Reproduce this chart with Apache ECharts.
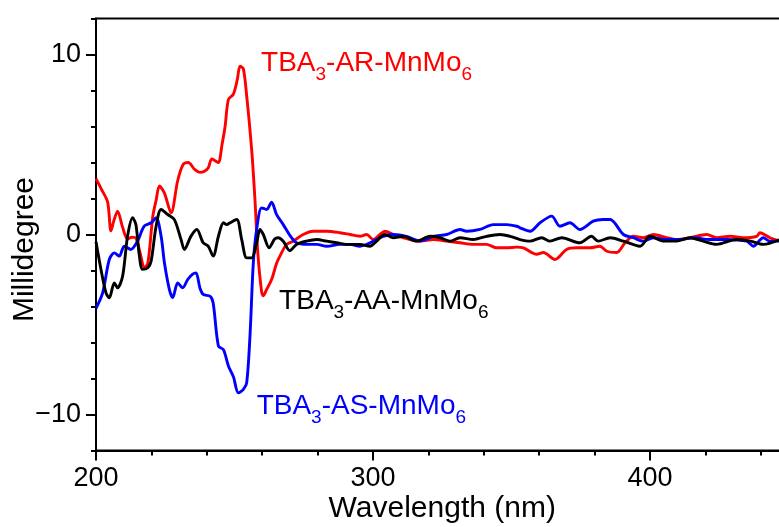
<!DOCTYPE html>
<html>
<head>
<meta charset="utf-8">
<script src="https://cdn.jsdelivr.net/npm/echarts@6/dist/echarts.min.js"></script>
<style>html,body{margin:0;padding:0;background:#fff;}#c{width:779px;height:527px;}</style>
</head>
<body>
<div id="c"></div>
<script>
// Wavelength (nm) / millidegree pairs
const redX = [200,202,204.2,205.4,206.5,207.8,209.6,211.4,213,214.4,216.2,217.4,218.7,220.5,221.7,222.9,224.7,227.1,229.5,231.5,233.3,235.7,237.5,239,240.5,241.8,243,244.2,245.5,246.6,247.8,249.6,251,252,253.2,254.4,256.2,257.4,258.4,259.8,260.4,261.6,263.4,265.2,266.4,268.8,271.2,274.8,278.4,283.3,288.1,291.7,295.3,297.7,300.1,302.5,304.3,307.3,310.9,317,321.8,326.6,331.4,336.2,341,344.7,348.3,351.9,354.3,359.1,361.5,365.7,369.9,373.5,378.3,381.9,384.4,388,391,394,397.6,401.2,406,409.6,414.4,420.5,424,428.9,433.7,438.5,439.7,443.3,447];
const redY = [3.1,2.5,1.8,0.2,0.8,1.3,0.4,-0.25,-0.15,-0.2,-1.2,-1.85,-1.6,1.0,1.9,2.7,2.3,1.2,3.0,3.9,4.0,3.6,3.45,3.5,3.7,4.2,4.1,4.0,5.0,6.0,7.5,7.8,8.6,9.35,9.2,7.7,4.7,1.9,-1.0,-3.2,-3.4,-3.05,-2.5,-1.6,-1.2,-0.55,-0.37,0,0.18,0.18,0.1,0,-0.1,0,-0.28,0,0.18,0,-0.18,-0.37,-0.28,-0.37,-0.46,-0.55,-0.55,-0.74,-0.74,-0.7,-0.74,-1.1,-1.0,-1.39,-0.83,-0.74,-0.74,-0.65,-0.93,-1.0,-0.46,-0.1,-0.18,0,-0.18,-0.28,-0.18,0,-0.18,-0.1,-0.18,-0.1,0.1,-0.18,-0.37];

const blueX = [200,202.4,204.8,206.6,208.4,210.2,212.6,215,217.4,219.9,221.7,223.5,224.7,226.5,227.7,229.5,231.3,233.1,234.9,236.1,237.5,238.7,241.2,242.3,244.2,246,247.8,249.6,251.4,253.2,254.4,255.6,256.8,258,259.8,261.6,263.4,265.2,267.6,270,272.4,276,279.7,283.3,288.1,291.7,295.3,297.7,300.1,303.7,307.3,312.1,317,321.8,326.6,331.4,333.8,338.6,343.4,348.3,351.9,353.1,356.7,360.3,364.5,367.5,371.1,374.7,379.5,383.1,385.6,390.4,394,397.6,401.2,406,410.8,415.6,421.6,427.7,434.9,437.3,440.9,443.3,447];
const blueY = [-4.1,-3.24,-1.39,-1.02,-1.2,-0.65,-0.83,-0.37,0.46,0.65,0.93,-0.09,-1.57,-3.06,-3.5,-2.69,-2.96,-2.5,-2.2,-2.13,-2.96,-3.33,-3.43,-3.8,-6.2,-6.4,-7.3,-7.9,-8.8,-8.6,-8.24,-5.6,-1.57,0.28,1.48,1.39,1.8,1.1,0.55,-0.05,-0.46,-0.55,-0.55,-0.65,-0.55,-0.55,-0.65,-0.55,-0.37,-0.1,0,-0.1,-0.37,-0.1,0,0.28,0.18,0.28,0.55,0.55,0.46,0.37,0.18,0.65,1.02,0.46,0.65,0.28,0.74,0.83,0.83,0,-0.18,-0.37,-0.18,-0.28,-0.28,-0.18,-0.28,-0.28,-0.37,-0.65,-0.18,-0.37,-0.37];

const blackX = [200,201.8,203.6,204.8,206.6,207.8,209.6,211.4,213.2,214.4,215.6,216.8,218.7,219.9,221.7,223.5,225.9,228.3,230.7,231.9,234.3,236.4,238.7,240.5,242.3,244.2,246,247.2,248.4,250.8,252.6,254.4,256.2,258,259.2,260.4,262.5,264.5,265.8,267.6,270,272.4,276,279.7,283.3,286.9,290.5,295.3,298.9,301.3,304.3,307.3,310.9,315.7,320.6,324.2,327.8,331.4,336.2,341,345.8,349.5,353.1,356.7,360.9,363.9,368.1,374.7,378.9,381.3,385.6,390.4,396.4,400,404.8,409.6,414.4,419.2,424,431.3,436.3,440.9,447];
const blackY = [-0.4,-1.94,-3.24,-3.52,-2.69,-2.96,-2.32,-0.09,0.93,0.56,-1.11,-1.94,-1.85,-1.48,0.46,1.39,1.11,0.83,-0.28,-0.83,-0.09,0.28,-0.46,-0.65,-1.2,-0.1,0.65,0.55,0.65,0.83,-0.28,-1.3,-1.3,-0.46,0.28,0,-0.74,-0.25,-0.18,-0.37,-0.9,-0.55,-0.37,-0.28,-0.37,-0.46,-0.55,-0.55,-0.65,-0.37,0,-0.18,-0.1,-0.37,-0.1,-0.18,-0.37,-0.18,-0.28,-0.1,0,-0.1,-0.28,-0.37,-0.18,-0.37,-0.18,-0.46,-0.1,-0.37,-0.18,-0.37,-0.65,-0.1,-0.37,-0.37,-0.18,-0.37,-0.55,-0.28,-0.37,-0.55,-0.28];

const xMajorTicks = [200, 300, 400];
const xMinorTicks = [220, 240, 260, 280, 320, 340, 360, 380, 420, 440];
const yMajorTicks = [-10, 0, 10];

const seriesNames = ['TBA3-AR-MnMo6', 'TBA3-AS-MnMo6', 'TBA3-AA-MnMo6'];
const labelCoords = [[259.6, 9.52], [258.0, -9.53], [266.1, -3.7]];
const labelRich = [
  '{n|TBA}{s|3}{n|-AR-MnMo}{s|6}',
  '{n|TBA}{s|3}{n|-AS-MnMo}{s|6}',
  '{n|TBA}{s|3}{n|-AA-MnMo}{s|6}'
];
const colors = ['#ff0000', '#0000ff', '#000000'];

const FONT = '"Liberation Sans", Arial, sans-serif';

function pairs(xs, ys) { return xs.map((x, i) => [x, ys[i]]); }

const datas = [pairs(redX, redY), pairs(blueX, blueY), pairs(blackX, blackY)];

const series = datas.map((d, i) => ({
  name: seriesNames[i],
  type: 'line',
  xAxisIndex: 0,
  yAxisIndex: 0,
  data: d,
  showSymbol: false,
  smooth: 0.3,
  lineStyle: { color: colors[i], width: 2.9 },
  z: 3 + i,
  markPoint: {
    symbol: 'circle',
    symbolSize: 0,
    silent: true,
    data: [{ coord: labelCoords[i] }],
    label: {
      show: true,
      position: 'right',
      distance: 0,
      formatter: labelRich[i],
      rich: {
        n: { fontFamily: FONT, fontSize: 28, color: colors[i], lineHeight: 30 },
        s: { fontFamily: FONT, fontSize: 19, color: colors[i], padding: [24, 0, 0, 0] }
      }
    }
  }
}));

const chart = echarts.init(document.getElementById('c'), null, { renderer: 'canvas' });
chart.setOption({
  backgroundColor: '#ffffff',
  animation: false,
  grid: {
    left: 96, top: 18.5, width: 692.5, height: 432,
    containLabel: false,
    outerBoundsMode: 'none',
    show: true, borderColor: '#000', borderWidth: 2, backgroundColor: 'transparent'
  },
  xAxis: [{
    type: 'value', min: 200, max: 450, interval: 50,
    position: 'bottom',
    name: 'Wavelength (nm)', nameLocation: 'middle', nameGap: 43, nameMoveOverlap: false,
    nameTextStyle: { fontFamily: FONT, fontSize: 30, color: '#000' },
    axisLine: { show: true, onZero: false, lineStyle: { color: '#000', width: 2 } },
    axisTick: { show: true, customValues: xMajorTicks, length: 10, lineStyle: { color: '#000', width: 2 } },
    axisLabel: { show: true, customValues: xMajorTicks, margin: 15, fontFamily: FONT, fontSize: 27, color: '#000' },
    splitLine: { show: false }
  }, {
    type: 'value', min: 200, max: 450, interval: 50,
    position: 'bottom',
    axisLine: { show: false, onZero: false },
    axisTick: { show: true, customValues: xMinorTicks, length: 5, lineStyle: { color: '#000', width: 2 } },
    axisLabel: { show: false },
    splitLine: { show: false }
  }],
  yAxis: [{
    type: 'value', min: -12, max: 12, interval: 2,
    position: 'left',
    name: 'Millidegree', nameLocation: 'middle', nameGap: 56, nameRotate: 90, nameMoveOverlap: false,
    nameTextStyle: { fontFamily: FONT, fontSize: 30, color: '#000', padding: [0, 30, 0, 0] },
    axisLine: { show: true, onZero: false, lineStyle: { color: '#000', width: 2 } },
    axisTick: { show: true, length: 5, lineStyle: { color: '#000', width: 2 } },
    axisLabel: {
      show: true, customValues: yMajorTicks, margin: 15, fontFamily: FONT, fontSize: 27, color: '#000',
      formatter: v => String(v).replace('-', '\u2212')
    },
    splitLine: { show: false }
  }, {
    type: 'value', min: -12, max: 12, interval: 2,
    position: 'left',
    axisLine: { show: false, onZero: false },
    axisTick: { show: true, customValues: yMajorTicks, length: 10, lineStyle: { color: '#000', width: 2 } },
    axisLabel: { show: false },
    splitLine: { show: false }
  }],
  series: series
});
</script>
</body>
</html>
